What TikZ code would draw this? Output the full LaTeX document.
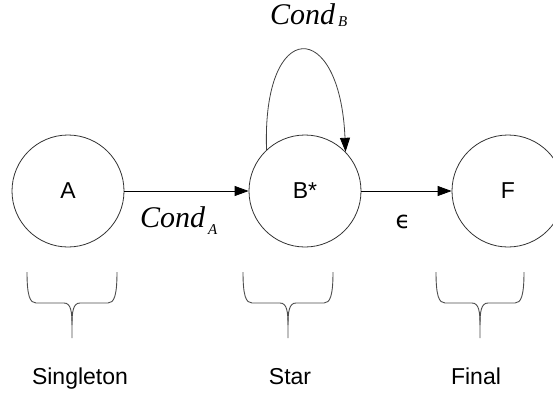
\documentclass[tikz,border=0pt]{standalone}
\usepackage{fontspec}
\setmainfont{Liberation Sans}
\newfontfamily\condserif{Liberation Serif}
\newfontfamily\epsfont{DejaVu Sans}
\usetikzlibrary{arrows.meta}
\tikzset{
  state/.style={circle,draw=black!80,line width=0.8pt,minimum size=112pt,inner sep=0pt,
    font=\fontsize{23}{23}\selectfont},
  trans/.style={draw=black,line width=0.8pt,-{Triangle[length=14pt,width=10pt]}},
  loopedge/.style={draw=black!75,line width=0.8pt,-{Triangle[length=14pt,width=10pt,fill=black,color=black]}},
  bracepath/.style={draw=black!70,line width=0.9pt},
  grouplabel/.style={font=\fontsize{23}{23}\selectfont,anchor=base,inner sep=0pt},
  condlabel/.style={anchor=base west,inner sep=0pt},
}
\newcommand{\condtext}[2]{{\condserif\itshape\fontsize{30}{30}\selectfont Cond}\kern3pt\raisebox{#2}{\condserif\itshape\fontsize{15}{15}\selectfont #1}}
\newcommand{\bracegroup}[3]{%
  \draw[bracepath] (#1-#2,272) .. controls (#1-#2,296) and (#1-#2+3,303) .. (#1-#2+9,303)
     -- (#1-8,303) .. controls (#1-1,303) and (#1,312) .. (#1,325) -- (#1,#3);
  \draw[bracepath] (#1+#2,272) .. controls (#1+#2,296) and (#1+#2-3,303) .. (#1+#2-9,303)
     -- (#1+8,303) .. controls (#1+1,303) and (#1,312) .. (#1,325);
}
\begin{document}
\begin{tikzpicture}[x=1pt,y=-1pt]
\useasboundingbox (0,0) rectangle (553,394);
\clip (0,0) rectangle (553,394);
\node[state] (A) at (68,191) {A};
\node[state] (B) at (305,191) {B*};
\node[state] (F) at (508,191) {F};
\draw[trans] (A.east) -- (B.west);
\draw[trans] (B.east) -- (F.west);
\draw[loopedge] (B.133) .. controls (262,17) and (340,17) .. (B.44);
\node[condlabel] (condA) at (140,227) {\condtext{A}{-7pt}};
\node[condlabel] (condB) at (270,24) {\condtext{B}{-2pt}};
\node[inner sep=0pt,anchor=base] (eps) at (403,228) {\epsfont\fontsize{24}{24}\selectfont ϵ};
\bracegroup{72}{45}{338}
\bracegroup{288}{45}{338}
\bracegroup{480}{44}{338}
\node[grouplabel] (single) at (80,384) {Singleton};
\node[grouplabel] (star) at (290,384) {Star};
\node[grouplabel] (final) at (476,384) {Final};
\end{tikzpicture}
\end{document}
